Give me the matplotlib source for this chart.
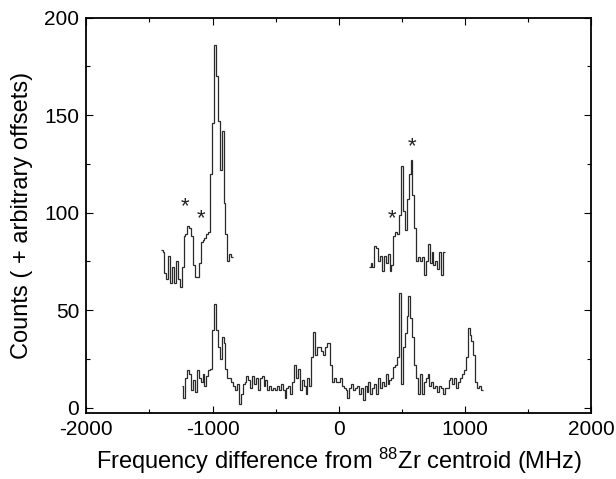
import numpy as np
import matplotlib
matplotlib.use('Agg')
import matplotlib.pyplot as plt
from matplotlib.ticker import MultipleLocator

plt.rcParams['font.family'] = ['Liberation Sans', 'DejaVu Sans']
plt.rcParams['mathtext.fontset'] = 'custom'
plt.rcParams['mathtext.rm'] = 'Liberation Sans'
plt.rcParams['mathtext.it'] = 'Liberation Sans:italic'
plt.rcParams['axes.unicode_minus'] = False

# histogram bins (MHz)
bin_width = 15.1

# lower trace
low_start = -1245
low_counts = [11, 5, 15, 19, 17, 9, 14, 8, 19, 15, 13, 17, 11, 16, 19, 20, 40,
              53, 40, 31, 25, 36, 33, 20, 15, 15, 13, 11, 9, 12,
              2, 7, 12, 13, 16, 14, 10, 16, 12, 15,
              9, 15, 16, 11, 14, 9, 11, 9, 10, 9,
              11, 9, 12, 9, 5, 10, 11, 7, 13, 22,
              15, 20, 9, 14, 11, 7, 15, 11, 26, 39,
              27, 31, 31, 29, 27, 31, 33, 33, 22, 13,
              15, 13, 13, 15, 11, 10, 9, 5, 10, 12,
              9, 10, 11, 7, 10, 4, 11, 8, 13, 7,
              10, 12, 7, 15, 10, 13, 11, 17, 12, 14,
              15, 21, 22, 26, 59, 12, 31, 38, 47, 57,
              46, 36, 22, 15, 7, 17, 7, 13, 15, 17,
              11, 13, 10, 11, 8, 11, 10, 7, 10, 10,
              14, 15, 12, 15, 10, 13, 15, 17, 19, 26,
              41, 37, 34, 27, 13, 10, 11, 9]

# upper left trace (offset)
ul_start = -1411
ul_counts = [81, 80, 69, 66, 78, 64, 72, 64, 75, 66, 62, 72, 88, 89,
             93, 92, 88, 73, 67, 67, 74, 85, 86, 87, 89, 90, 120, 146,
             186, 170, 147, 122, 142, 105, 89, 75, 79, 77]

# upper right trace (offset)
ur_start = 236
ur_counts = [72, 74, 72, 83, 82, 75, 78, 70, 78, 74, 79, 70, 73, 88, 90, 89, 99,
             124, 101, 91, 107, 120,
             127, 109, 92, 75, 77, 75, 77, 68, 75, 84, 74, 80, 73, 75, 71, 80, 68, 80]

# asterisk markers
star_x = [-1220, -1092, 422, 583]
star_y = [103, 97, 97, 134]

fig = plt.figure(figsize=(6.16, 4.79), dpi=100)
ax = fig.add_axes([0.14, 0.137, 0.82, 0.826])

for start, counts in [(low_start, low_counts), (ul_start, ul_counts), (ur_start, ur_counts)]:
    edges = start + bin_width * np.arange(len(counts) + 1)
    ax.stairs(counts, edges, baseline=None, color='#2a2a2a', linewidth=0.9)

for x, y in zip(star_x, star_y):
    ax.text(x, y, '*', ha='center', va='center', fontsize=16, color='#222222')

ax.set_xlim(-2000, 2000)
ax.set_ylim(-3, 200)
ax.xaxis.set_major_locator(MultipleLocator(1000))
ax.xaxis.set_minor_locator(MultipleLocator(500))
ax.yaxis.set_major_locator(MultipleLocator(50))
ax.yaxis.set_minor_locator(MultipleLocator(25))
ax.tick_params(which='both', direction='in', top=True, right=True, labelsize=15, pad=5)
ax.tick_params(which='major', length=5, width=0.8)
ax.tick_params(which='minor', length=3, width=0.8)
for s in ax.spines.values():
    s.set_linewidth(1.3)

ax.set_xlabel('Frequency difference from $^{88}$Zr centroid (MHz)', fontsize=17, labelpad=5)
ax.set_ylabel('Counts ( + arbitrary offsets)', fontsize=17, labelpad=8)

fig.savefig('out.png', dpi=100)
